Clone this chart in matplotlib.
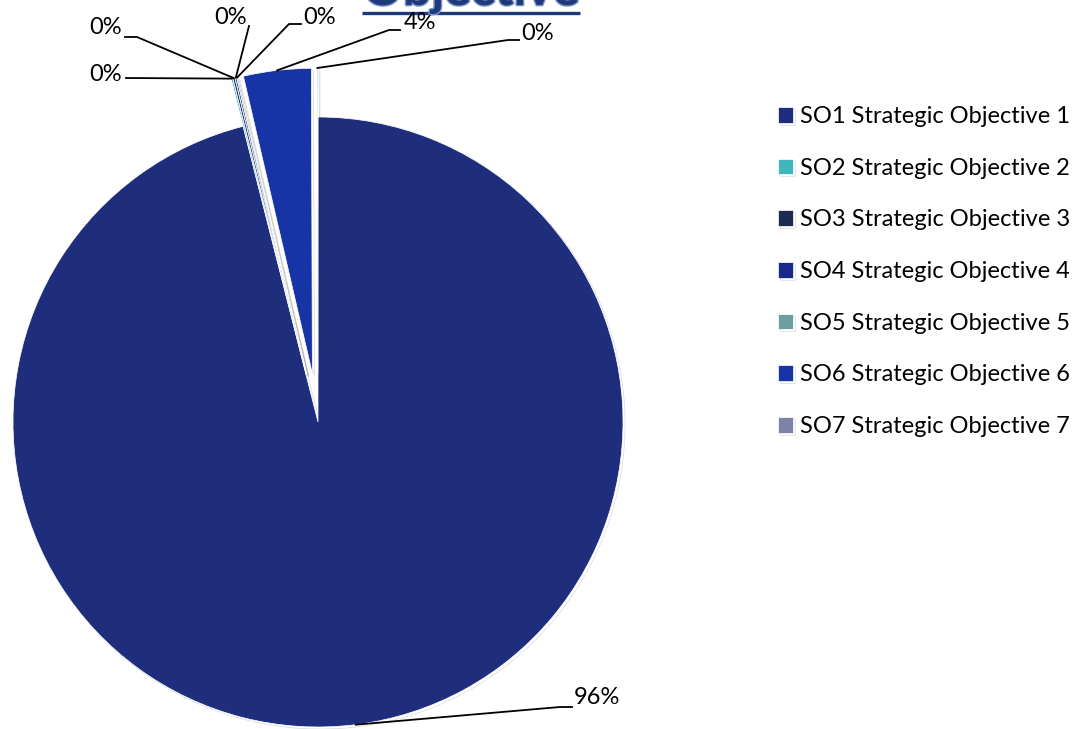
import matplotlib
matplotlib.use("Agg")
import matplotlib.pyplot as plt
import matplotlib.patheffects as pe
import numpy as np

plt.rcParams['font.family'] = ['Lato', 'DejaVu Sans']

# ── Data ──────────────────────────────────────────────────────────────────────
labels = ["SO1 Strategic Objective 1", "SO2 Strategic Objective 2",
          "SO3 Strategic Objective 3", "SO4 Strategic Objective 4",
          "SO5 Strategic Objective 5", "SO6 Strategic Objective 6",
          "SO7 Strategic Objective 7"]
values = [96.05, 0.08, 0.10, 0.08, 0.06, 3.58, 0.05]
colors = ["#1E2E7C", "#3FB5BD", "#1B2A4E", "#19298A", "#6C9EA2", "#1634A6", "#7E84A8"]
title = "Objective"

# ── Layout (pixel coords, origin top-left) ───────────────────────────────────
W, H = 1085, 729
def px(x, y):
    return (x, H - y)

center = px(318, 422)
radius = 305
explode = [0, 49, 49, 49, 49, 49, 49]   # absolute offset in pixels

# text position, alignment and elbow points of each leader line
label_layout = [
    ((574, 698), "left",   [(560, 707), (572, 707)]),
    ((122, 74),  "right",  [(126, 78)]),
    ((122, 27),  "right",  [(137, 37), (125, 37)]),
    ((231, 17),  "center", [(249, 26)]),
    ((303, 17),  "left",   [(289, 24), (301, 24)]),
    ((404, 22),  "left",   [(389, 30), (400, 30)]),
    ((521, 33),  "left",   [(508, 40), (519, 40)]),
]

fig = plt.figure(figsize=(W / 100, H / 100), dpi=100)
ax = fig.add_axes([0, 0, 1, 1])

wedges, _ = ax.pie(values, colors=colors, explode=explode, startangle=90,
                   counterclock=False, center=center, radius=radius,
                   wedgeprops=dict(edgecolor="white", linewidth=0.5))
for w in wedges:
    w.set_path_effects([pe.SimpleLineShadow(offset=(1.5, -1.5), alpha=0.15),
                        pe.Normal()])

total = sum(values)
for w, v, (tpos, ha, elbows) in zip(wedges, values, label_layout):
    mid = np.deg2rad((w.theta1 + w.theta2) / 2)
    anchor = (w.center[0] + w.r * np.cos(mid), w.center[1] + w.r * np.sin(mid))
    pts = [anchor] + [px(*p) for p in elbows]
    ax.plot([p[0] for p in pts], [p[1] for p in pts], color="black", lw=1.3)
    ax.text(*px(*tpos), f"{v / total * 100:.0f}%", ha=ha, va="center",
            fontsize=17, color="black")

# title, mostly cut off at the top of the picture
ax.text(*px(471, 5), title, ha="center", va="baseline", fontsize=36,
        fontweight="bold", color="#1F3A7A",
        path_effects=[pe.withStroke(linewidth=2, foreground="#7F95C8")])
ax.plot([px(362, 13)[0], px(580, 13)[0]], [px(362, 13)[1], px(580, 13)[1]],
        color="#1F3A7A", lw=2.4, solid_capstyle="butt")

leg = ax.legend(wedges, labels, loc="upper left", frameon=False,
                bbox_to_anchor=(778 / W, 1 - 106 / H), borderpad=0,
                borderaxespad=0, fontsize=17, handlelength=0.65,
                handleheight=0.65, handletextpad=0.3, labelspacing=1.3)

ax.set_xlim(0, W)
ax.set_ylim(0, H)
ax.set_aspect("equal")
ax.axis("off")

fig.savefig("out.png", dpi=100)
